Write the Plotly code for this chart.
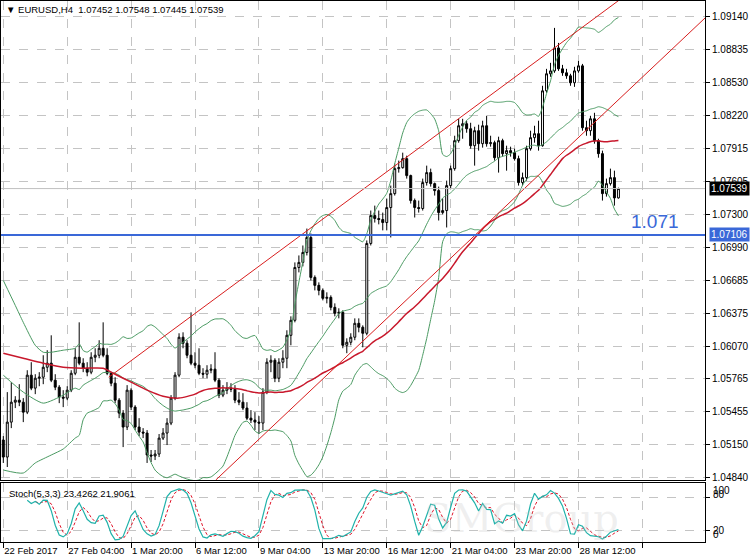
import numpy as np
import pandas as pd
import plotly.graph_objects as go

# EURUSD H4, 155 bars (bar 0 = 22 Feb 2017 12:00)
bars = list(range(155))

opens = [1.05193, 1.05034, 1.05360, 1.05546, 1.05565, 1.05546, 1.05453, 1.05798, 1.05677, 1.05770,
         1.05779, 1.05872, 1.05910, 1.05751, 1.05686, 1.05593, 1.05584, 1.05658, 1.05816, 1.05965,
         1.05910, 1.05863, 1.05826, 1.05965, 1.05984, 1.06049, 1.05984, 1.05816, 1.05723, 1.05565,
         1.05444, 1.05314, 1.05658, 1.05500, 1.05314, 1.05267, 1.05258, 1.05053, 1.05044, 1.05062,
         1.05211, 1.05258, 1.05351, 1.05584, 1.05798, 1.06152, 1.06096, 1.05984, 1.05910, 1.05891,
         1.05816, 1.05807, 1.05844, 1.05854, 1.05751, 1.05612, 1.05658, 1.05677, 1.05667, 1.05565,
         1.05546, 1.05491, 1.05397, 1.05379, 1.05360, 1.05351, 1.05640, 1.05919, 1.05937, 1.05770,
         1.05919, 1.05956, 1.06170, 1.06310, 1.06803, 1.06850, 1.06943, 1.07083, 1.06710, 1.06636,
         1.06589, 1.06515, 1.06524, 1.06431, 1.06375, 1.06384, 1.06077, 1.06105, 1.06152, 1.06282,
         1.06245, 1.06189, 1.07027, 1.07287, 1.07260, 1.07250, 1.07222, 1.07362, 1.07492, 1.07725,
         1.07734, 1.07818, 1.07660, 1.07427, 1.07362, 1.07353, 1.07595, 1.07688, 1.07585, 1.07520,
         1.07315, 1.07334, 1.07567, 1.07725, 1.07986, 1.08125, 1.08144, 1.08097, 1.07939, 1.08079,
         1.07958, 1.08125, 1.07958, 1.07967, 1.07827, 1.07986, 1.07865, 1.07893, 1.07874, 1.07818,
         1.07595, 1.07641, 1.07911, 1.08014, 1.08051, 1.07939, 1.08451, 1.08610, 1.08637, 1.08851,
         1.08656, 1.08619, 1.08591, 1.08526, 1.08637, 1.08684, 1.08107, 1.08079, 1.08190, 1.07986,
         1.07865, 1.07492, 1.07585, 1.07641, 1.07452]

highs = [1.05230, 1.05640, 1.05733, 1.05602, 1.05714, 1.05584, 1.05844, 1.05919, 1.05807, 1.05826,
         1.05984, 1.06031, 1.06170, 1.05807, 1.05705, 1.05658, 1.05695, 1.05844, 1.06049, 1.06291,
         1.05956, 1.05919, 1.06012, 1.06049, 1.06124, 1.06291, 1.06049, 1.05826, 1.05779, 1.05584,
         1.05472, 1.05705, 1.05677, 1.05518, 1.05397, 1.05304, 1.05286, 1.05100, 1.05100, 1.05249,
         1.05304, 1.05397, 1.05612, 1.05826, 1.06189, 1.06198, 1.06124, 1.06384, 1.06012, 1.06049,
         1.05863, 1.05891, 1.05900, 1.06012, 1.05770, 1.05705, 1.05733, 1.05723, 1.05705, 1.05640,
         1.05630, 1.05546, 1.05472, 1.05453, 1.05416, 1.05677, 1.05956, 1.05984, 1.05956, 1.05956,
         1.06031, 1.06217, 1.06347, 1.06850, 1.06915, 1.07008, 1.07166, 1.07120, 1.06729, 1.06664,
         1.06608, 1.06571, 1.06543, 1.06468, 1.06422, 1.06403, 1.06142, 1.06189, 1.06328, 1.06328,
         1.06263, 1.07055, 1.07334, 1.07380, 1.07334, 1.07315, 1.07446, 1.07567, 1.07772, 1.07800,
         1.07874, 1.07846, 1.07669, 1.07446, 1.07427, 1.07632, 1.07753, 1.07725, 1.07595, 1.07557,
         1.07446, 1.07613, 1.07753, 1.08032, 1.08190, 1.08190, 1.08172, 1.08153, 1.08116, 1.08135,
         1.08172, 1.08218, 1.08032, 1.07986, 1.08023, 1.08004, 1.07939, 1.07930, 1.07911, 1.07846,
         1.07688, 1.07939, 1.08079, 1.08125, 1.08172, 1.08498, 1.08656, 1.08712, 1.09038, 1.08898,
         1.08693, 1.08656, 1.08610, 1.08675, 1.08730, 1.08702, 1.08172, 1.08218, 1.08246, 1.08004,
         1.07893, 1.07632, 1.07725, 1.07706, 1.07548]

lows = [1.04979, 1.04941, 1.05304, 1.05491, 1.05509, 1.05360, 1.05435, 1.05658, 1.05621, 1.05695,
        1.05714, 1.05826, 1.05733, 1.05658, 1.05537, 1.05500, 1.05565, 1.05640, 1.05798, 1.05891,
        1.05826, 1.05788, 1.05807, 1.05919, 1.05956, 1.05965, 1.05798, 1.05695, 1.05537, 1.05397,
        1.05127, 1.05286, 1.05472, 1.05286, 1.05230, 1.05211, 1.04979, 1.04988, 1.05006, 1.05034,
        1.05193, 1.05146, 1.05332, 1.05565, 1.05779, 1.06049, 1.05956, 1.05891, 1.05863, 1.05798,
        1.05770, 1.05770, 1.05816, 1.05733, 1.05584, 1.05593, 1.05621, 1.05640, 1.05537, 1.05518,
        1.05472, 1.05379, 1.05351, 1.05286, 1.05249, 1.05286, 1.05621, 1.05826, 1.05733, 1.05733,
        1.05863, 1.05863, 1.06077, 1.06291, 1.06757, 1.06813, 1.06915, 1.06682, 1.06589, 1.06543,
        1.06496, 1.06468, 1.06403, 1.06347, 1.06328, 1.06049, 1.06003, 1.06077, 1.06124, 1.06198,
        1.06058, 1.06170, 1.07008, 1.07222, 1.07205, 1.07149, 1.07149, 1.07083, 1.07474, 1.07688,
        1.07725, 1.07632, 1.07399, 1.07269, 1.07315, 1.07334, 1.07567, 1.07557, 1.07474, 1.07241,
        1.07297, 1.07176, 1.07539, 1.07706, 1.07967, 1.08004, 1.08060, 1.07911, 1.07753, 1.07893,
        1.07921, 1.07930, 1.07930, 1.07800, 1.07688, 1.07837, 1.07706, 1.07837, 1.07800, 1.07567,
        1.07567, 1.07613, 1.07893, 1.07967, 1.07893, 1.07930, 1.08433, 1.08582, 1.08619, 1.08637,
        1.08591, 1.08563, 1.08498, 1.08488, 1.08619, 1.08079, 1.08032, 1.08032, 1.07958, 1.07827,
        1.07427, 1.07464, 1.07567, 1.07380, 1.07445]

closes = [1.05034, 1.05360, 1.05546, 1.05565, 1.05546, 1.05453, 1.05798, 1.05677, 1.05770, 1.05779,
          1.05872, 1.05910, 1.05751, 1.05686, 1.05593, 1.05584, 1.05658, 1.05816, 1.05965, 1.05910,
          1.05863, 1.05826, 1.05965, 1.05984, 1.06049, 1.05984, 1.05816, 1.05723, 1.05565, 1.05444,
          1.05314, 1.05658, 1.05500, 1.05314, 1.05267, 1.05258, 1.05053, 1.05044, 1.05062, 1.05211,
          1.05258, 1.05351, 1.05584, 1.05798, 1.06152, 1.06096, 1.05984, 1.05910, 1.05891, 1.05816,
          1.05807, 1.05844, 1.05854, 1.05751, 1.05612, 1.05658, 1.05677, 1.05667, 1.05565, 1.05546,
          1.05491, 1.05397, 1.05379, 1.05360, 1.05351, 1.05640, 1.05919, 1.05937, 1.05770, 1.05919,
          1.05956, 1.06170, 1.06310, 1.06803, 1.06850, 1.06943, 1.07083, 1.06710, 1.06636, 1.06589,
          1.06515, 1.06524, 1.06431, 1.06375, 1.06384, 1.06077, 1.06105, 1.06152, 1.06282, 1.06245,
          1.06189, 1.07027, 1.07287, 1.07260, 1.07250, 1.07222, 1.07362, 1.07492, 1.07725, 1.07734,
          1.07818, 1.07660, 1.07427, 1.07362, 1.07353, 1.07595, 1.07688, 1.07585, 1.07520, 1.07315,
          1.07334, 1.07567, 1.07725, 1.07986, 1.08125, 1.08144, 1.08097, 1.07939, 1.08079, 1.07958,
          1.08125, 1.07958, 1.07967, 1.07827, 1.07986, 1.07865, 1.07893, 1.07874, 1.07818, 1.07595,
          1.07641, 1.07911, 1.08014, 1.08051, 1.07939, 1.08451, 1.08610, 1.08637, 1.08851, 1.08656,
          1.08619, 1.08591, 1.08526, 1.08637, 1.08684, 1.08107, 1.08079, 1.08190, 1.07986, 1.07865,
          1.07492, 1.07585, 1.07641, 1.07452, 1.07539]

bb_up_head_bars = [0, 3, 5, 8, 10, 12, 15, 18]
bb_up_head = [1.06682, 1.06449, 1.06291, 1.06077, 1.06012, 1.06012, 1.06031, 1.06049]
bb_mid_head_bars = [0, 5, 10, 15, 18]
bb_mid_head = [1.05798, 1.05640, 1.05537, 1.05612, 1.05677]
bb_lo_head_bars = [0, 5, 8, 12, 15, 18]
bb_lo_head = [1.04913, 1.04885, 1.04979, 1.05053, 1.05109, 1.05211]
ma_head_bars = [0, 5, 10, 15, 20, 25, 28, 32, 36, 40, 44, 48]
ma_head = [1.06003, 1.05956, 1.05910, 1.05872, 1.05863, 1.05863, 1.05807, 1.05733,
           1.05658, 1.05602, 1.05584, 1.05621]

# hand drawn objects
upper_trend_bars = [26.4, 154.5]
upper_trend_prices = [1.05779, 1.09306]
lower_trend_bars = [53.2, 175.7]
lower_trend_prices = [1.04820, 1.09131]
level_price = 1.07106
bid_price = 1.07539

price_ticks = [1.09140, 1.08835, 1.08530, 1.08220, 1.07915, 1.07605, 1.07300, 1.06990,
               1.06685, 1.06375, 1.06070, 1.05765, 1.05455, 1.05150, 1.04840]
date_tick_bars = [0, 16, 32, 48, 64, 80, 96, 112, 128, 144, 160]
date_tick_text = ["22 Feb 2017", "27 Feb 04:00", "1 Mar 20:00", "6 Mar 12:00", "9 Mar 04:00",
                  "13 Mar 20:00", "16 Mar 12:00", "21 Mar 04:00", "23 Mar 20:00", "28 Mar 12:00", ""]
stoch_labels = ["100", "80", "20", "0"]
stoch_label_pos = [94, 87, 20, 13]

# indicators
c = pd.Series(closes)
h = pd.Series(highs)
l = pd.Series(lows)
mid = c.rolling(20).mean()
sd = c.rolling(20).std(ddof=0)
up = mid + 2 * sd
lo = mid - 2 * sd
sma50 = c.rolling(50).mean()

ll = l.rolling(5).min()
hh = h.rolling(5).max()
stoch_k = 100 * (c - ll).rolling(3).sum() / (hh - ll).rolling(3).sum()
stoch_d = stoch_k.rolling(3).mean()

GRID = "#c4c4c4"
BB_COL = "#4a9a62"
FONT = "Liberation Sans"

fig = go.Figure()

fig.add_trace(go.Candlestick(
    x=bars, open=opens, high=highs, low=lows, close=closes,
    increasing=dict(line=dict(color="black", width=1), fillcolor="white"),
    decreasing=dict(line=dict(color="black", width=1), fillcolor="black"),
    whiskerwidth=0, xaxis="x", yaxis="y", showlegend=False,
))

rest = list(range(19, 155))
for hb, hv, s in [(bb_up_head_bars, bb_up_head, up),
                  (bb_mid_head_bars, bb_mid_head, mid),
                  (bb_lo_head_bars, bb_lo_head, lo)]:
    fig.add_trace(go.Scatter(x=hb + rest, y=hv + list(s[19:]), mode="lines",
                             line=dict(color=BB_COL, width=1, shape="spline", smoothing=0.6),
                             xaxis="x", yaxis="y", showlegend=False, hoverinfo="skip"))

fig.add_trace(go.Scatter(x=ma_head_bars + list(range(49, 155)), y=ma_head + list(sma50[49:]),
                         mode="lines", line=dict(color="#c8182c", width=1.5, shape="spline", smoothing=0.6),
                         xaxis="x", yaxis="y", showlegend=False, hoverinfo="skip"))

for tb, tp in [(upper_trend_bars, upper_trend_prices), (lower_trend_bars, lower_trend_prices)]:
    fig.add_trace(go.Scatter(x=tb, y=tp, mode="lines", line=dict(color="#d81e1e", width=1),
                             xaxis="x", yaxis="y", showlegend=False, hoverinfo="skip"))

fig.add_trace(go.Scatter(x=[-1, 180], y=[bid_price, bid_price], mode="lines",
                         line=dict(color="#c0c0c0", width=1), xaxis="x", yaxis="y",
                         showlegend=False, hoverinfo="skip"))
fig.add_trace(go.Scatter(x=[-1, 180], y=[level_price, level_price], mode="lines",
                         line=dict(color="#3a68d8", width=2), xaxis="x", yaxis="y",
                         showlegend=False, hoverinfo="skip"))

# stochastic
fig.add_trace(go.Scatter(x=bars, y=stoch_d, mode="lines",
                         line=dict(color="#e0142a", width=1, dash="3px,2px"),
                         xaxis="x2", yaxis="y2", showlegend=False, hoverinfo="skip"))
fig.add_trace(go.Scatter(x=bars, y=stoch_k, mode="lines",
                         line=dict(color="#20b2aa", width=1.2),
                         xaxis="x2", yaxis="y2", showlegend=False, hoverinfo="skip"))

axis_common = dict(showline=True, mirror=True, linecolor="black", linewidth=1, automargin=False,
                   zeroline=False, showgrid=True, gridcolor=GRID, griddash="dash", gridwidth=1)

fig.update_layout(
    width=750, height=560,
    margin=dict(l=1, r=45, t=1, b=18),
    paper_bgcolor="white", plot_bgcolor="white",
    font=dict(family=FONT, size=10, color="black"),
    showlegend=False,
    xaxis=dict(domain=[0, 1], range=[-0.575, 175.675], anchor="y", tickvals=date_tick_bars,
               showticklabels=False, ticks="", rangeslider=dict(visible=False), **axis_common),
    yaxis=dict(domain=[62 / 541, 1], range=[1.04820, 1.09289], side="right", anchor="x",
               tickvals=price_ticks, showticklabels=False,
               ticks="outside", ticklen=4, tickcolor="black", **axis_common),
    xaxis2=dict(domain=[0, 1], matches="x", anchor="y2", tickvals=date_tick_bars,
                ticktext=date_tick_text, ticks="outside", ticklen=5, tickcolor="black",
                tickangle=0, ticklabelposition="outside right", tickfont=dict(size=9.5),
                **axis_common),
    yaxis2=dict(domain=[0, 59 / 541], range=[0, 107], side="right", anchor="x2",
                tickvals=[20, 80], showticklabels=False, ticks="outside", ticklen=4,
                tickcolor="black", **axis_common),
)

ann = [
    dict(text="SMGroup", x=620 / 704, y=-1 / 541, xref="paper", yref="paper", showarrow=False,
         font=dict(size=40, color="rgba(200,200,200,0.28)", family="DejaVu Serif")),
    dict(text="▼ EURUSD,H4  1.07452 1.07548 1.07445 1.07539", x=0.004, y=1 - 9 / 541,
         xref="paper", yref="paper", xanchor="left", yanchor="middle", showarrow=False,
         font=dict(size=9.5)),
    dict(text="Stoch(5,3,3) 23.4262 21.9061", x=0.008, y=(541 - 492) / 541,
         xref="paper", yref="paper", xanchor="left", yanchor="middle", showarrow=False,
         font=dict(size=9.5)),
]
for v in price_ticks:
    ann.append(dict(text=f"{v:.5f}", x=1, y=v, xref="paper", yref="y", xanchor="left",
                    xshift=5, yanchor="middle", showarrow=False))
ann += [
    dict(text=f"{bid_price:.5f}", x=1, y=bid_price, xref="paper", yref="y", xanchor="left",
         xshift=4, yanchor="middle", showarrow=False, bgcolor="black",
         font=dict(color="white"), borderpad=1),
    dict(text=f"{level_price:.5f}", x=1, y=level_price, xref="paper", yref="y", xanchor="left",
         xshift=4, yanchor="middle", showarrow=False, bgcolor="#3a68d8",
         font=dict(color="white"), borderpad=1),
    dict(text="1.071", x=163.2, y=1.07231, xref="x", yref="y", showarrow=False,
         font=dict(size=19, color="#3a68d8")),
]
for txt, val in zip(stoch_labels, stoch_label_pos):
    ann.append(dict(text=txt, x=1, y=val, xref="paper", yref="y2", xanchor="left", xshift=6,
                    yanchor="middle", showarrow=False))
fig.update_layout(annotations=ann)

# the page body has a default 8px margin; drop it so the chart fills the window
fig.write_html("out.html", config={"displayModeBar": False},
               post_script="document.body.style.margin='0';")
